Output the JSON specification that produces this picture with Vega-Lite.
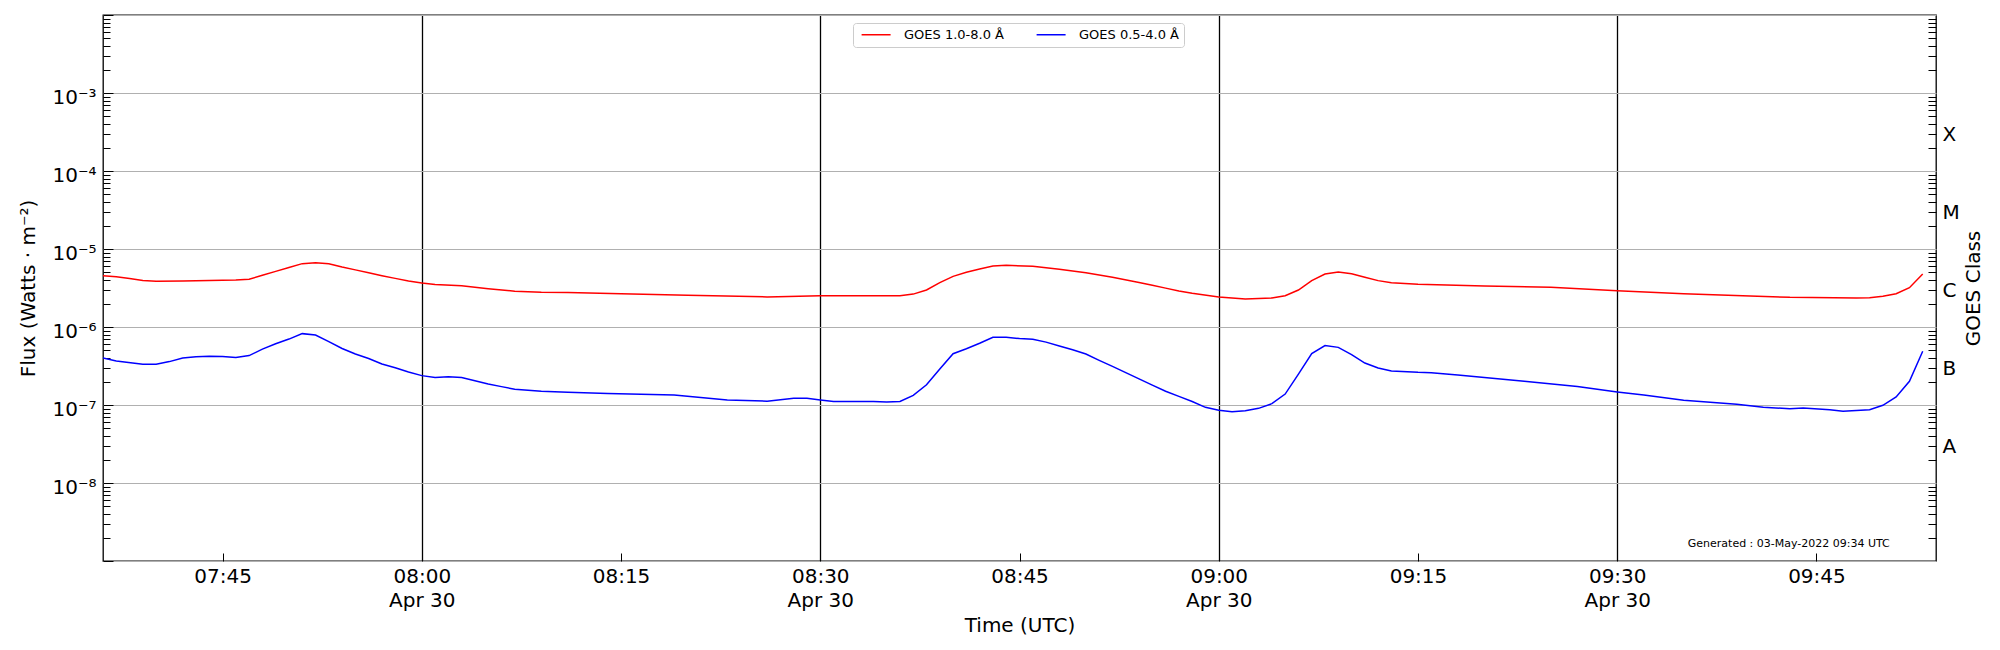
{
  "$schema": "https://vega.github.io/schema/vega-lite/v6.json",
  "width": 1833,
  "height": 546,
  "autosize": {"type": "none"},
  "padding": {"left": 103, "top": 15, "right": 64, "bottom": 89},
  "config": {
    "font": "DejaVu Sans",
    "background": "white",
    "view": {"stroke": "black", "strokeWidth": 1.3},
    "axis": {
      "domain": false,
      "labelFont": "DejaVu Sans",
      "titleFont": "DejaVu Sans",
      "labelColor": "black",
      "titleColor": "black",
      "labelFontSize": 20,
      "titleFontSize": 20,
      "titleFontWeight": "normal",
      "tickColor": "black",
      "tickWidth": 1,
      "labelOverlap": false,
      "labelFlush": false,
      "labelBound": false
    }
  },
  "datasets": {
    "goes": [
      {"time": "2022-04-30T07:36:00Z", "flux": 4.55e-6, "channel": "GOES 1.0-8.0 Å"},
      {"time": "2022-04-30T07:37:00Z", "flux": 4.4e-6, "channel": "GOES 1.0-8.0 Å"},
      {"time": "2022-04-30T07:38:00Z", "flux": 4.2e-6, "channel": "GOES 1.0-8.0 Å"},
      {"time": "2022-04-30T07:39:00Z", "flux": 3.95e-6, "channel": "GOES 1.0-8.0 Å"},
      {"time": "2022-04-30T07:40:00Z", "flux": 3.85e-6, "channel": "GOES 1.0-8.0 Å"},
      {"time": "2022-04-30T07:42:00Z", "flux": 3.9e-6, "channel": "GOES 1.0-8.0 Å"},
      {"time": "2022-04-30T07:44:00Z", "flux": 3.95e-6, "channel": "GOES 1.0-8.0 Å"},
      {"time": "2022-04-30T07:46:00Z", "flux": 4.0e-6, "channel": "GOES 1.0-8.0 Å"},
      {"time": "2022-04-30T07:47:00Z", "flux": 4.1e-6, "channel": "GOES 1.0-8.0 Å"},
      {"time": "2022-04-30T07:48:00Z", "flux": 4.6e-6, "channel": "GOES 1.0-8.0 Å"},
      {"time": "2022-04-30T07:49:00Z", "flux": 5.17e-6, "channel": "GOES 1.0-8.0 Å"},
      {"time": "2022-04-30T07:50:00Z", "flux": 5.8e-6, "channel": "GOES 1.0-8.0 Å"},
      {"time": "2022-04-30T07:51:00Z", "flux": 6.49e-6, "channel": "GOES 1.0-8.0 Å"},
      {"time": "2022-04-30T07:52:00Z", "flux": 6.68e-6, "channel": "GOES 1.0-8.0 Å"},
      {"time": "2022-04-30T07:53:00Z", "flux": 6.45e-6, "channel": "GOES 1.0-8.0 Å"},
      {"time": "2022-04-30T07:54:00Z", "flux": 5.87e-6, "channel": "GOES 1.0-8.0 Å"},
      {"time": "2022-04-30T07:55:00Z", "flux": 5.4e-6, "channel": "GOES 1.0-8.0 Å"},
      {"time": "2022-04-30T07:56:00Z", "flux": 4.95e-6, "channel": "GOES 1.0-8.0 Å"},
      {"time": "2022-04-30T07:57:00Z", "flux": 4.55e-6, "channel": "GOES 1.0-8.0 Å"},
      {"time": "2022-04-30T07:58:00Z", "flux": 4.2e-6, "channel": "GOES 1.0-8.0 Å"},
      {"time": "2022-04-30T07:59:00Z", "flux": 3.9e-6, "channel": "GOES 1.0-8.0 Å"},
      {"time": "2022-04-30T08:00:00Z", "flux": 3.66e-6, "channel": "GOES 1.0-8.0 Å"},
      {"time": "2022-04-30T08:01:00Z", "flux": 3.5e-6, "channel": "GOES 1.0-8.0 Å"},
      {"time": "2022-04-30T08:03:00Z", "flux": 3.39e-6, "channel": "GOES 1.0-8.0 Å"},
      {"time": "2022-04-30T08:05:00Z", "flux": 3.1e-6, "channel": "GOES 1.0-8.0 Å"},
      {"time": "2022-04-30T08:07:00Z", "flux": 2.88e-6, "channel": "GOES 1.0-8.0 Å"},
      {"time": "2022-04-30T08:09:00Z", "flux": 2.78e-6, "channel": "GOES 1.0-8.0 Å"},
      {"time": "2022-04-30T08:11:00Z", "flux": 2.76e-6, "channel": "GOES 1.0-8.0 Å"},
      {"time": "2022-04-30T08:15:00Z", "flux": 2.67e-6, "channel": "GOES 1.0-8.0 Å"},
      {"time": "2022-04-30T08:20:00Z", "flux": 2.55e-6, "channel": "GOES 1.0-8.0 Å"},
      {"time": "2022-04-30T08:26:00Z", "flux": 2.43e-6, "channel": "GOES 1.0-8.0 Å"},
      {"time": "2022-04-30T08:30:00Z", "flux": 2.52e-6, "channel": "GOES 1.0-8.0 Å"},
      {"time": "2022-04-30T08:33:00Z", "flux": 2.52e-6, "channel": "GOES 1.0-8.0 Å"},
      {"time": "2022-04-30T08:36:00Z", "flux": 2.52e-6, "channel": "GOES 1.0-8.0 Å"},
      {"time": "2022-04-30T08:37:00Z", "flux": 2.64e-6, "channel": "GOES 1.0-8.0 Å"},
      {"time": "2022-04-30T08:38:00Z", "flux": 2.98e-6, "channel": "GOES 1.0-8.0 Å"},
      {"time": "2022-04-30T08:39:00Z", "flux": 3.7e-6, "channel": "GOES 1.0-8.0 Å"},
      {"time": "2022-04-30T08:40:00Z", "flux": 4.46e-6, "channel": "GOES 1.0-8.0 Å"},
      {"time": "2022-04-30T08:41:00Z", "flux": 5.02e-6, "channel": "GOES 1.0-8.0 Å"},
      {"time": "2022-04-30T08:42:00Z", "flux": 5.55e-6, "channel": "GOES 1.0-8.0 Å"},
      {"time": "2022-04-30T08:43:00Z", "flux": 6.05e-6, "channel": "GOES 1.0-8.0 Å"},
      {"time": "2022-04-30T08:44:00Z", "flux": 6.17e-6, "channel": "GOES 1.0-8.0 Å"},
      {"time": "2022-04-30T08:46:00Z", "flux": 6.0e-6, "channel": "GOES 1.0-8.0 Å"},
      {"time": "2022-04-30T08:48:00Z", "flux": 5.5e-6, "channel": "GOES 1.0-8.0 Å"},
      {"time": "2022-04-30T08:50:00Z", "flux": 4.97e-6, "channel": "GOES 1.0-8.0 Å"},
      {"time": "2022-04-30T08:52:00Z", "flux": 4.35e-6, "channel": "GOES 1.0-8.0 Å"},
      {"time": "2022-04-30T08:54:00Z", "flux": 3.72e-6, "channel": "GOES 1.0-8.0 Å"},
      {"time": "2022-04-30T08:55:00Z", "flux": 3.42e-6, "channel": "GOES 1.0-8.0 Å"},
      {"time": "2022-04-30T08:56:00Z", "flux": 3.15e-6, "channel": "GOES 1.0-8.0 Å"},
      {"time": "2022-04-30T08:57:00Z", "flux": 2.9e-6, "channel": "GOES 1.0-8.0 Å"},
      {"time": "2022-04-30T08:58:00Z", "flux": 2.7e-6, "channel": "GOES 1.0-8.0 Å"},
      {"time": "2022-04-30T09:00:00Z", "flux": 2.43e-6, "channel": "GOES 1.0-8.0 Å"},
      {"time": "2022-04-30T09:02:00Z", "flux": 2.29e-6, "channel": "GOES 1.0-8.0 Å"},
      {"time": "2022-04-30T09:04:00Z", "flux": 2.35e-6, "channel": "GOES 1.0-8.0 Å"},
      {"time": "2022-04-30T09:05:00Z", "flux": 2.52e-6, "channel": "GOES 1.0-8.0 Å"},
      {"time": "2022-04-30T09:06:00Z", "flux": 2.98e-6, "channel": "GOES 1.0-8.0 Å"},
      {"time": "2022-04-30T09:07:00Z", "flux": 3.93e-6, "channel": "GOES 1.0-8.0 Å"},
      {"time": "2022-04-30T09:08:00Z", "flux": 4.77e-6, "channel": "GOES 1.0-8.0 Å"},
      {"time": "2022-04-30T09:09:00Z", "flux": 5.07e-6, "channel": "GOES 1.0-8.0 Å"},
      {"time": "2022-04-30T09:10:00Z", "flux": 4.83e-6, "channel": "GOES 1.0-8.0 Å"},
      {"time": "2022-04-30T09:11:00Z", "flux": 4.35e-6, "channel": "GOES 1.0-8.0 Å"},
      {"time": "2022-04-30T09:12:00Z", "flux": 3.93e-6, "channel": "GOES 1.0-8.0 Å"},
      {"time": "2022-04-30T09:13:00Z", "flux": 3.7e-6, "channel": "GOES 1.0-8.0 Å"},
      {"time": "2022-04-30T09:15:00Z", "flux": 3.52e-6, "channel": "GOES 1.0-8.0 Å"},
      {"time": "2022-04-30T09:20:00Z", "flux": 3.36e-6, "channel": "GOES 1.0-8.0 Å"},
      {"time": "2022-04-30T09:25:00Z", "flux": 3.23e-6, "channel": "GOES 1.0-8.0 Å"},
      {"time": "2022-04-30T09:30:00Z", "flux": 2.92e-6, "channel": "GOES 1.0-8.0 Å"},
      {"time": "2022-04-30T09:35:00Z", "flux": 2.67e-6, "channel": "GOES 1.0-8.0 Å"},
      {"time": "2022-04-30T09:40:00Z", "flux": 2.5e-6, "channel": "GOES 1.0-8.0 Å"},
      {"time": "2022-04-30T09:43:00Z", "flux": 2.4e-6, "channel": "GOES 1.0-8.0 Å"},
      {"time": "2022-04-30T09:48:00Z", "flux": 2.35e-6, "channel": "GOES 1.0-8.0 Å"},
      {"time": "2022-04-30T09:49:00Z", "flux": 2.37e-6, "channel": "GOES 1.0-8.0 Å"},
      {"time": "2022-04-30T09:50:00Z", "flux": 2.48e-6, "channel": "GOES 1.0-8.0 Å"},
      {"time": "2022-04-30T09:51:00Z", "flux": 2.67e-6, "channel": "GOES 1.0-8.0 Å"},
      {"time": "2022-04-30T09:52:00Z", "flux": 3.19e-6, "channel": "GOES 1.0-8.0 Å"},
      {"time": "2022-04-30T09:53:00Z", "flux": 4.77e-6, "channel": "GOES 1.0-8.0 Å"},
      {"time": "2022-04-30T07:36:00Z", "flux": 4.01e-7, "channel": "GOES 0.5-4.0 Å"},
      {"time": "2022-04-30T07:37:00Z", "flux": 3.66e-7, "channel": "GOES 0.5-4.0 Å"},
      {"time": "2022-04-30T07:39:00Z", "flux": 3.32e-7, "channel": "GOES 0.5-4.0 Å"},
      {"time": "2022-04-30T07:40:00Z", "flux": 3.32e-7, "channel": "GOES 0.5-4.0 Å"},
      {"time": "2022-04-30T07:41:00Z", "flux": 3.6e-7, "channel": "GOES 0.5-4.0 Å"},
      {"time": "2022-04-30T07:42:00Z", "flux": 4.0e-7, "channel": "GOES 0.5-4.0 Å"},
      {"time": "2022-04-30T07:43:00Z", "flux": 4.15e-7, "channel": "GOES 0.5-4.0 Å"},
      {"time": "2022-04-30T07:44:00Z", "flux": 4.21e-7, "channel": "GOES 0.5-4.0 Å"},
      {"time": "2022-04-30T07:45:00Z", "flux": 4.2e-7, "channel": "GOES 0.5-4.0 Å"},
      {"time": "2022-04-30T07:46:00Z", "flux": 4.07e-7, "channel": "GOES 0.5-4.0 Å"},
      {"time": "2022-04-30T07:47:00Z", "flux": 4.3e-7, "channel": "GOES 0.5-4.0 Å"},
      {"time": "2022-04-30T07:48:00Z", "flux": 5.2e-7, "channel": "GOES 0.5-4.0 Å"},
      {"time": "2022-04-30T07:49:00Z", "flux": 6.1e-7, "channel": "GOES 0.5-4.0 Å"},
      {"time": "2022-04-30T07:50:00Z", "flux": 7.0e-7, "channel": "GOES 0.5-4.0 Å"},
      {"time": "2022-04-30T07:51:00Z", "flux": 8.22e-7, "channel": "GOES 0.5-4.0 Å"},
      {"time": "2022-04-30T07:52:00Z", "flux": 7.9e-7, "channel": "GOES 0.5-4.0 Å"},
      {"time": "2022-04-30T07:53:00Z", "flux": 6.5e-7, "channel": "GOES 0.5-4.0 Å"},
      {"time": "2022-04-30T07:54:00Z", "flux": 5.3e-7, "channel": "GOES 0.5-4.0 Å"},
      {"time": "2022-04-30T07:55:00Z", "flux": 4.5e-7, "channel": "GOES 0.5-4.0 Å"},
      {"time": "2022-04-30T07:56:00Z", "flux": 3.95e-7, "channel": "GOES 0.5-4.0 Å"},
      {"time": "2022-04-30T07:57:00Z", "flux": 3.35e-7, "channel": "GOES 0.5-4.0 Å"},
      {"time": "2022-04-30T07:58:00Z", "flux": 3.0e-7, "channel": "GOES 0.5-4.0 Å"},
      {"time": "2022-04-30T07:59:00Z", "flux": 2.65e-7, "channel": "GOES 0.5-4.0 Å"},
      {"time": "2022-04-30T08:00:00Z", "flux": 2.38e-7, "channel": "GOES 0.5-4.0 Å"},
      {"time": "2022-04-30T08:01:00Z", "flux": 2.25e-7, "channel": "GOES 0.5-4.0 Å"},
      {"time": "2022-04-30T08:02:00Z", "flux": 2.3e-7, "channel": "GOES 0.5-4.0 Å"},
      {"time": "2022-04-30T08:03:00Z", "flux": 2.25e-7, "channel": "GOES 0.5-4.0 Å"},
      {"time": "2022-04-30T08:04:00Z", "flux": 2.05e-7, "channel": "GOES 0.5-4.0 Å"},
      {"time": "2022-04-30T08:05:00Z", "flux": 1.86e-7, "channel": "GOES 0.5-4.0 Å"},
      {"time": "2022-04-30T08:06:00Z", "flux": 1.72e-7, "channel": "GOES 0.5-4.0 Å"},
      {"time": "2022-04-30T08:07:00Z", "flux": 1.59e-7, "channel": "GOES 0.5-4.0 Å"},
      {"time": "2022-04-30T08:09:00Z", "flux": 1.5e-7, "channel": "GOES 0.5-4.0 Å"},
      {"time": "2022-04-30T08:11:00Z", "flux": 1.46e-7, "channel": "GOES 0.5-4.0 Å"},
      {"time": "2022-04-30T08:14:00Z", "flux": 1.4e-7, "channel": "GOES 0.5-4.0 Å"},
      {"time": "2022-04-30T08:19:00Z", "flux": 1.34e-7, "channel": "GOES 0.5-4.0 Å"},
      {"time": "2022-04-30T08:23:00Z", "flux": 1.16e-7, "channel": "GOES 0.5-4.0 Å"},
      {"time": "2022-04-30T08:26:00Z", "flux": 1.12e-7, "channel": "GOES 0.5-4.0 Å"},
      {"time": "2022-04-30T08:28:00Z", "flux": 1.22e-7, "channel": "GOES 0.5-4.0 Å"},
      {"time": "2022-04-30T08:29:00Z", "flux": 1.22e-7, "channel": "GOES 0.5-4.0 Å"},
      {"time": "2022-04-30T08:30:00Z", "flux": 1.16e-7, "channel": "GOES 0.5-4.0 Å"},
      {"time": "2022-04-30T08:31:00Z", "flux": 1.11e-7, "channel": "GOES 0.5-4.0 Å"},
      {"time": "2022-04-30T08:34:00Z", "flux": 1.11e-7, "channel": "GOES 0.5-4.0 Å"},
      {"time": "2022-04-30T08:35:00Z", "flux": 1.09e-7, "channel": "GOES 0.5-4.0 Å"},
      {"time": "2022-04-30T08:36:00Z", "flux": 1.11e-7, "channel": "GOES 0.5-4.0 Å"},
      {"time": "2022-04-30T08:37:00Z", "flux": 1.33e-7, "channel": "GOES 0.5-4.0 Å"},
      {"time": "2022-04-30T08:38:00Z", "flux": 1.82e-7, "channel": "GOES 0.5-4.0 Å"},
      {"time": "2022-04-30T08:39:00Z", "flux": 2.9e-7, "channel": "GOES 0.5-4.0 Å"},
      {"time": "2022-04-30T08:40:00Z", "flux": 4.55e-7, "channel": "GOES 0.5-4.0 Å"},
      {"time": "2022-04-30T08:41:00Z", "flux": 5.27e-7, "channel": "GOES 0.5-4.0 Å"},
      {"time": "2022-04-30T08:42:00Z", "flux": 6.18e-7, "channel": "GOES 0.5-4.0 Å"},
      {"time": "2022-04-30T08:43:00Z", "flux": 7.38e-7, "channel": "GOES 0.5-4.0 Å"},
      {"time": "2022-04-30T08:44:00Z", "flux": 7.38e-7, "channel": "GOES 0.5-4.0 Å"},
      {"time": "2022-04-30T08:45:00Z", "flux": 7.1e-7, "channel": "GOES 0.5-4.0 Å"},
      {"time": "2022-04-30T08:46:00Z", "flux": 6.95e-7, "channel": "GOES 0.5-4.0 Å"},
      {"time": "2022-04-30T08:47:00Z", "flux": 6.4e-7, "channel": "GOES 0.5-4.0 Å"},
      {"time": "2022-04-30T08:48:00Z", "flux": 5.7e-7, "channel": "GOES 0.5-4.0 Å"},
      {"time": "2022-04-30T08:49:00Z", "flux": 5.1e-7, "channel": "GOES 0.5-4.0 Å"},
      {"time": "2022-04-30T08:50:00Z", "flux": 4.51e-7, "channel": "GOES 0.5-4.0 Å"},
      {"time": "2022-04-30T08:51:00Z", "flux": 3.74e-7, "channel": "GOES 0.5-4.0 Å"},
      {"time": "2022-04-30T08:52:00Z", "flux": 3.13e-7, "channel": "GOES 0.5-4.0 Å"},
      {"time": "2022-04-30T08:53:00Z", "flux": 2.6e-7, "channel": "GOES 0.5-4.0 Å"},
      {"time": "2022-04-30T08:54:00Z", "flux": 2.16e-7, "channel": "GOES 0.5-4.0 Å"},
      {"time": "2022-04-30T08:55:00Z", "flux": 1.8e-7, "channel": "GOES 0.5-4.0 Å"},
      {"time": "2022-04-30T08:56:00Z", "flux": 1.5e-7, "channel": "GOES 0.5-4.0 Å"},
      {"time": "2022-04-30T08:57:00Z", "flux": 1.29e-7, "channel": "GOES 0.5-4.0 Å"},
      {"time": "2022-04-30T08:58:00Z", "flux": 1.11e-7, "channel": "GOES 0.5-4.0 Å"},
      {"time": "2022-04-30T08:59:00Z", "flux": 9.33e-8, "channel": "GOES 0.5-4.0 Å"},
      {"time": "2022-04-30T09:00:00Z", "flux": 8.55e-8, "channel": "GOES 0.5-4.0 Å"},
      {"time": "2022-04-30T09:01:00Z", "flux": 8.22e-8, "channel": "GOES 0.5-4.0 Å"},
      {"time": "2022-04-30T09:02:00Z", "flux": 8.45e-8, "channel": "GOES 0.5-4.0 Å"},
      {"time": "2022-04-30T09:03:00Z", "flux": 9.06e-8, "channel": "GOES 0.5-4.0 Å"},
      {"time": "2022-04-30T09:04:00Z", "flux": 1.04e-7, "channel": "GOES 0.5-4.0 Å"},
      {"time": "2022-04-30T09:05:00Z", "flux": 1.38e-7, "channel": "GOES 0.5-4.0 Å"},
      {"time": "2022-04-30T09:06:00Z", "flux": 2.49e-7, "channel": "GOES 0.5-4.0 Å"},
      {"time": "2022-04-30T09:07:00Z", "flux": 4.55e-7, "channel": "GOES 0.5-4.0 Å"},
      {"time": "2022-04-30T09:08:00Z", "flux": 5.77e-7, "channel": "GOES 0.5-4.0 Å"},
      {"time": "2022-04-30T09:09:00Z", "flux": 5.48e-7, "channel": "GOES 0.5-4.0 Å"},
      {"time": "2022-04-30T09:10:00Z", "flux": 4.42e-7, "channel": "GOES 0.5-4.0 Å"},
      {"time": "2022-04-30T09:11:00Z", "flux": 3.45e-7, "channel": "GOES 0.5-4.0 Å"},
      {"time": "2022-04-30T09:12:00Z", "flux": 2.98e-7, "channel": "GOES 0.5-4.0 Å"},
      {"time": "2022-04-30T09:13:00Z", "flux": 2.73e-7, "channel": "GOES 0.5-4.0 Å"},
      {"time": "2022-04-30T09:15:00Z", "flux": 2.62e-7, "channel": "GOES 0.5-4.0 Å"},
      {"time": "2022-04-30T09:16:00Z", "flux": 2.6e-7, "channel": "GOES 0.5-4.0 Å"},
      {"time": "2022-04-30T09:18:00Z", "flux": 2.42e-7, "channel": "GOES 0.5-4.0 Å"},
      {"time": "2022-04-30T09:20:00Z", "flux": 2.26e-7, "channel": "GOES 0.5-4.0 Å"},
      {"time": "2022-04-30T09:23:00Z", "flux": 2.01e-7, "channel": "GOES 0.5-4.0 Å"},
      {"time": "2022-04-30T09:27:00Z", "flux": 1.73e-7, "channel": "GOES 0.5-4.0 Å"},
      {"time": "2022-04-30T09:30:00Z", "flux": 1.47e-7, "channel": "GOES 0.5-4.0 Å"},
      {"time": "2022-04-30T09:32:00Z", "flux": 1.34e-7, "channel": "GOES 0.5-4.0 Å"},
      {"time": "2022-04-30T09:35:00Z", "flux": 1.15e-7, "channel": "GOES 0.5-4.0 Å"},
      {"time": "2022-04-30T09:39:00Z", "flux": 1.02e-7, "channel": "GOES 0.5-4.0 Å"},
      {"time": "2022-04-30T09:41:00Z", "flux": 9.33e-8, "channel": "GOES 0.5-4.0 Å"},
      {"time": "2022-04-30T09:43:00Z", "flux": 8.97e-8, "channel": "GOES 0.5-4.0 Å"},
      {"time": "2022-04-30T09:44:00Z", "flux": 9.15e-8, "channel": "GOES 0.5-4.0 Å"},
      {"time": "2022-04-30T09:46:00Z", "flux": 8.7e-8, "channel": "GOES 0.5-4.0 Å"},
      {"time": "2022-04-30T09:47:00Z", "flux": 8.3e-8, "channel": "GOES 0.5-4.0 Å"},
      {"time": "2022-04-30T09:49:00Z", "flux": 8.7e-8, "channel": "GOES 0.5-4.0 Å"},
      {"time": "2022-04-30T09:50:00Z", "flux": 9.91e-8, "channel": "GOES 0.5-4.0 Å"},
      {"time": "2022-04-30T09:51:00Z", "flux": 1.27e-7, "channel": "GOES 0.5-4.0 Å"},
      {"time": "2022-04-30T09:52:00Z", "flux": 2.01e-7, "channel": "GOES 0.5-4.0 Å"},
      {"time": "2022-04-30T09:53:00Z", "flux": 4.88e-7, "channel": "GOES 0.5-4.0 Å"}
    ],
    "note": [
      {"time": "2022-04-30T09:42:55Z", "flux": 1.64e-9, "label": "Generated : 03-May-2022 09:34 UTC"}
    ]
  },
  "encoding": {
    "x": {
      "field": "time",
      "type": "temporal",
      "scale": {
        "type": "utc",
        "domain": [
          {"year": 2022, "month": 4, "date": 30, "hours": 7, "minutes": 36, "utc": true},
          {"year": 2022, "month": 4, "date": 30, "hours": 9, "minutes": 54, "utc": true}
        ]
      },
      "axis": {
        "title": "Time (UTC)",
        "values": [
          {"year": 2022, "month": 4, "date": 30, "hours": 7, "minutes": 45, "utc": true},
          {"year": 2022, "month": 4, "date": 30, "hours": 8, "minutes": 0, "utc": true},
          {"year": 2022, "month": 4, "date": 30, "hours": 8, "minutes": 15, "utc": true},
          {"year": 2022, "month": 4, "date": 30, "hours": 8, "minutes": 30, "utc": true},
          {"year": 2022, "month": 4, "date": 30, "hours": 8, "minutes": 45, "utc": true},
          {"year": 2022, "month": 4, "date": 30, "hours": 9, "minutes": 0, "utc": true},
          {"year": 2022, "month": 4, "date": 30, "hours": 9, "minutes": 15, "utc": true},
          {"year": 2022, "month": 4, "date": 30, "hours": 9, "minutes": 30, "utc": true},
          {"year": 2022, "month": 4, "date": 30, "hours": 9, "minutes": 45, "utc": true}
        ],
        "labelExpr": "utcminutes(datum.value) % 30 == 0 ? [utcFormat(datum.value, '%H:%M'), 'Apr 30'] : utcFormat(datum.value, '%H:%M')",
        "labelLineHeight": 24,
        "grid": true,
        "gridColor": "black",
        "gridWidth": 1.3,
        "gridOpacity": {"condition": {"test": "utcminutes(datum.value) % 30 == 0", "value": 1}, "value": 0},
        "tickSize": -8,
        "labelPadding": 13,
        "titlePadding": 5
      }
    }
  },
  "layer": [
    {
      "data": {"name": "goes"},
      "mark": {"type": "line", "strokeWidth": 1.5, "clip": true},
      "encoding": {
        "y": {
          "field": "flux",
          "type": "quantitative",
          "scale": {"type": "log", "domain": [1e-9, 0.01]},
          "axis": {
            "orient": "left",
            "title": "Flux (Watts · m⁻²)",
            "values": [1e-9, 2e-9, 3e-9, 4e-9, 5e-9, 6e-9, 7e-9, 8e-9, 9e-9,
                       1e-8, 2e-8, 3e-8, 4e-8, 5e-8, 6e-8, 7e-8, 8e-8, 9e-8,
                       1e-7, 2e-7, 3e-7, 4e-7, 5e-7, 6e-7, 7e-7, 8e-7, 9e-7,
                       1e-6, 2e-6, 3e-6, 4e-6, 5e-6, 6e-6, 7e-6, 8e-6, 9e-6,
                       1e-5, 2e-5, 3e-5, 4e-5, 5e-5, 6e-5, 7e-5, 8e-5, 9e-5,
                       1e-4, 2e-4, 3e-4, 4e-4, 5e-4, 6e-4, 7e-4, 8e-4, 9e-4,
                       1e-3, 2e-3, 3e-3, 4e-3, 5e-3, 6e-3, 7e-3, 8e-3, 9e-3, 1e-2],
            "labelExpr": "(abs(log(datum.value)/LN10 - round(log(datum.value)/LN10)) < 0.001 && round(log(datum.value)/LN10) <= -3 && round(log(datum.value)/LN10) >= -8) ? '10⁻' + ['⁰','¹','²','³','⁴','⁵','⁶','⁷','⁸','⁹'][-round(log(datum.value)/LN10)] : ''",
            "grid": true,
            "gridColor": "#b0b0b0",
            "gridWidth": 1,
            "gridOpacity": {"condition": {"test": "abs(log(datum.value)/LN10 - round(log(datum.value)/LN10)) < 0.001", "value": 1}, "value": 0},
            "tickSize": {"condition": {"test": "abs(log(datum.value)/LN10 - round(log(datum.value)/LN10)) < 0.001", "value": -10}, "value": -7},
            "labelPadding": 17,
            "labelOffset": 4,
            "labelBaseline": "middle",
            "titlePadding": 13
          }
        },
        "color": {
          "field": "channel",
          "type": "nominal",
          "scale": {"domain": ["GOES 1.0-8.0 Å", "GOES 0.5-4.0 Å"], "range": ["#ff0000", "#0000ff"]},
          "legend": {
            "title": null,
            "orient": "none",
            "legendX": 750,
            "legendY": 8,
            "direction": "horizontal",
            "symbolType": "M-1,0H9",
            "symbolSize": 33.64,
            "symbolStrokeWidth": 1.5,
            "labelFontSize": 13,
            "labelFont": "DejaVu Sans",
            "labelColor": "black",
            "labelOffset": 33,
            "labelLimit": 0,
            "columnPadding": 29,
            "padding": 5,
            "strokeColor": "#cccccc",
            "fillColor": "white",
            "cornerRadius": 3
          }
        }
      }
    },
    {
      "data": {"name": "goes"},
      "mark": {"type": "point", "opacity": 0},
      "encoding": {
        "y": {
          "field": "flux",
          "type": "quantitative",
          "scale": {"type": "log", "domain": [1e-9, 0.01]},
          "axis": {
            "orient": "right",
            "title": "GOES Class",
            "values": [2e-9, 3e-9, 4e-9, 5e-9, 6e-9, 7e-9, 8e-9, 9e-9,
                       2e-8, 3e-8, 4e-8, 5e-8, 6e-8, 7e-8, 8e-8, 9e-8,
                       2e-7, 3e-7, 4e-7, 5e-7, 6e-7, 7e-7, 8e-7, 9e-7,
                       2e-6, 3e-6, 4e-6, 5e-6, 6e-6, 7e-6, 8e-6, 9e-6,
                       2e-5, 3e-5, 4e-5, 5e-5, 6e-5, 7e-5, 8e-5, 9e-5,
                       2e-4, 3e-4, 4e-4, 5e-4, 6e-4, 7e-4, 8e-4, 9e-4,
                       2e-3, 3e-3, 4e-3, 5e-3, 6e-3, 7e-3, 8e-3, 9e-3],
            "labelExpr": "abs(datum.value/3e-8 - 1) < 0.01 ? 'A' : abs(datum.value/3e-7 - 1) < 0.01 ? 'B' : abs(datum.value/3e-6 - 1) < 0.01 ? 'C' : abs(datum.value/3e-5 - 1) < 0.01 ? 'M' : abs(datum.value/3e-4 - 1) < 0.01 ? 'X' : ''",
            "grid": false,
            "tickSize": -8,
            "labelPadding": 14,
            "labelOffset": 1,
            "labelBaseline": "middle",
            "titleAngle": -90,
            "titleBaseline": "top",
            "titlePadding": 4
          }
        }
      }
    },
    {
      "data": {"name": "note"},
      "mark": {"type": "text", "fontSize": 11, "align": "center", "baseline": "middle", "color": "black", "font": "DejaVu Sans"},
      "encoding": {
        "y": {"field": "flux", "type": "quantitative", "scale": {"type": "log", "domain": [1e-9, 0.01]}, "axis": null},
        "text": {"field": "label"}
      }
    }
  ],
  "resolve": {"axis": {"y": "independent"}}
}
